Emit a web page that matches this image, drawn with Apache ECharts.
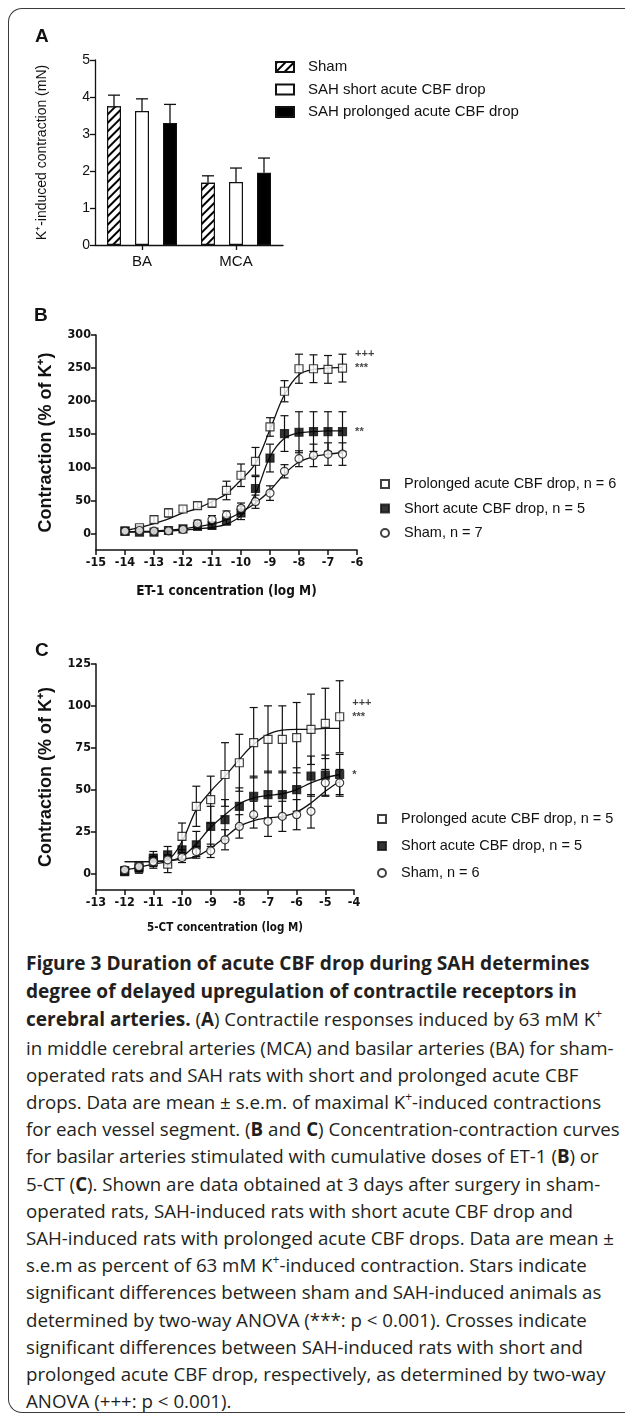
<!DOCTYPE html>
<html><head><meta charset="utf-8">
<script src="https://cdn.jsdelivr.net/npm/echarts@6/dist/echarts.min.js"></script>
<style>
html,body{margin:0;padding:0;background:#fff;width:625px;height:1415px;overflow:hidden;}
#frame{position:absolute;left:8px;top:8px;width:700px;height:1405px;border:1.5px solid #3a3a3a;border-right:none;border-radius:14px 0 0 14px;box-sizing:border-box;}
#chart{position:absolute;left:0;top:0;width:625px;height:945px;}
#caption{position:absolute;left:26px;top:949px;font-family:'Open Sans',sans-serif;font-size:18.7px;line-height:27.2px;color:#231f20;white-space:nowrap;}
#caption .h{font-size:19.1px;font-weight:bold;}
#caption b{font-weight:bold;}
#caption sup{font-size:12px;line-height:0;vertical-align:baseline;position:relative;top:-8px;}
</style></head><body>
<div id="frame"></div>
<div id="chart"></div>
<div id="caption">
<span class="h">Figure 3 Duration of acute CBF drop during SAH determines</span><br>
<span class="h">degree of delayed upregulation of contractile receptors in</span><br>
<span class="h">cerebral arteries.</span> (<b>A</b>) Contractile responses induced by 63 mM K<sup>+</sup><br>
in middle cerebral arteries (MCA) and basilar arteries (BA) for sham-<br>
operated rats and SAH rats with short and prolonged acute CBF<br>
drops. Data are mean ± s.e.m. of maximal K<sup>+</sup>-induced contractions<br>
for each vessel segment. (<b>B</b> and <b>C</b>) Concentration-contraction curves<br>
for basilar arteries stimulated with cumulative doses of ET-1 (<b>B</b>) or<br>
5-CT (<b>C</b>). Shown are data obtained at 3 days after surgery in sham-<br>
operated rats, SAH-induced rats with short acute CBF drop and<br>
SAH-induced rats with prolonged acute CBF drops. Data are mean ±<br>
s.e.m as percent of 63 mM K<sup>+</sup>-induced contraction. Stars indicate<br>
significant differences between sham and SAH-induced animals as<br>
determined by two-way ANOVA (***: p &lt; 0.001). Crosses indicate<br>
significant differences between SAH-induced rats with short and<br>
prolonged acute CBF drop, respectively, as determined by two-way<br>
ANOVA (+++: p &lt; 0.001).
</div>
<script>
// ---------- Panel A data ----------
const aCategories = ['BA', 'MCA'];
const aNames = ['Sham', 'SAH short acute CBF drop', 'SAH prolonged acute CBF drop'];
const aSham = [3.75, 1.68];
const aShamErr = [0.30, 0.19];
const aShort = [3.62, 1.70];
const aShortErr = [0.33, 0.38];
const aProlonged = [3.30, 1.95];
const aProlongedErr = [0.50, 0.40];
const aYTicks = [0, 1, 2, 3, 4, 5];

// ---------- Panel B data (ET-1) ----------
const bX = [-14, -13.5, -13, -12.5, -12, -11.5, -11, -10.5, -10, -9.5, -9, -8.5, -8, -7.5, -7, -6.5];
const bProlonged = [3.5, 8.6, 21, 31, 37, 42, 46, 65, 88, 109, 161, 215, 249, 249, 248, 250];
const bProlongedSem = [3, 3, 5, 6, 5, 5, 6, 14, 17, 21, 14, 16, 22, 21, 21, 21];
const bShort = [3.5, 2, 2, 4.5, 7, 10.7, 12, 19, 31, 68, 114, 151, 153, 154, 154, 154];
const bShortSem = [2, 2, 2, 3, 3, 4, 5, 6, 10, 18, 21, 27, 31, 30, 30, 30];
const bSham = [3.5, 4.5, 3.5, 4, 6, 15, 21, 28, 38, 48, 61, 94, 113, 118, 120, 120];
const bShamSem = [2, 2, 2, 3, 4, 5, 6, 6, 8, 10, 11, 10, 12, 17, 17, 17];
const bProlongedFit = [4.5, 9, 15, 22, 31, 38, 48, 60, 81, 106, 157, 210, 240, 248, 250, 251];
const bShortFit = [2, 2, 2.5, 3.5, 5, 7, 9, 14, 27, 60, 116, 144, 152, 154, 155, 155];
const bShamFit = [2.5, 3, 3.5, 5, 7, 10.5, 14, 21, 32, 46, 65, 90, 108, 116, 120, 122];
const bNames = ['Prolonged acute CBF drop, n = 6', 'Short acute CBF drop, n = 5', 'Sham, n = 7'];
const bSig = ['+++\n***', '**', ''];
const bXTicks = [-15, -14, -13, -12, -11, -10, -9, -8, -7, -6];
const bYTicks = [0, 50, 100, 150, 200, 250, 300];

// ---------- Panel C data (5-CT) ----------
const cX = [-12, -11.5, -11, -10.5, -10, -9.5, -9, -8.5, -8, -7.5, -7, -6.5, -6, -5.5, -5, -4.5];
const cProlonged = [1.4, 4, 7, 5.4, 22, 40, 44, 59, 66, 78, 80, 80, 81, 86, 89.5, 93.5];
const cProlongedSem = [2, 3, 4, 5, 8, 12, 14, 19, 17, 21, 20, 20, 21, 21, 21, 21.5];
const cShort = [1, 3, 9, 11, 14, 17, 28, 32, 40, 46, 47, 47, 50, 58, 58.6, 59];
const cShortSem = [2, 3, 4, 5, 6, 8, 12, 12, 11, 12, 14, 14, 13, 12, 12, 12];
const cSham = [2, 4, 7, 8, 9.4, 13, 13.4, 20, 28, 35, 31, 34, 35, 37, 54, 54];
const cShamSem = [2, 2, 3, 3, 3, 3, 4, 6, 7, 8, 9, 9, 9, 10, 8, 8];
const cProlongedFit = [7, 7, 7, 8, 19, 38, 49, 58, 68, 77, 83, 85.5, 86, 86, 86.5, 86.5];
const cShortFit = [2, 3.5, 5.5, 7, 10, 17.5, 27.5, 35, 41.5, 45, 46.5, 47.5, 50, 54, 57, 59];
const cShamFit = [7, 7, 7, 7.5, 8.5, 10, 15, 21.5, 28, 31.5, 33, 34, 36.5, 42, 49, 55];
const cNames = ['Prolonged acute CBF drop, n = 5', 'Short acute CBF drop, n = 5 ', 'Sham, n = 6'];
const cSig = ['+++\n***', '*', ''];
const cXTicks = [-13, -12, -11, -10, -9, -8, -7, -6, -5, -4];
const cYTicks = [0, 25, 50, 75, 100, 125];

// ---------- build ----------
const narrow = "'Liberation Sans Narrow','Arial Narrow','DejaVu Sans Condensed',sans-serif";
const sans = "'Liberation Sans',Arial,sans-serif";
const ink = '#111';

const chart = echarts.init(document.getElementById('chart'), null, {renderer: 'canvas'});

function barErr(offset) {
  return function (params, api) {
    const cat = api.value(0), v = api.value(1), e = api.value(2);
    const p0 = api.coord([cat, v]);
    const p1 = api.coord([cat, v + e]);
    const x = p0[0] + offset;
    return {type: 'group', children: [
      {type: 'line', shape: {x1: x, y1: p0[1], x2: x, y2: p1[1]}, style: {stroke: ink, lineWidth: 1.3}},
      {type: 'line', shape: {x1: x - 6, y1: p1[1], x2: x + 6, y2: p1[1]}, style: {stroke: ink, lineWidth: 1.3}}
    ]};
  };
}
function symErr(params, api) {
  const x = api.value(0), y = api.value(1), s = api.value(2);
  const hi = api.coord([x, y + s]);
  const lo = api.coord([x, y - s]);
  const st = {stroke: ink, lineWidth: 1.2};
  return {type: 'group', children: [
    {type: 'line', shape: {x1: hi[0], y1: hi[1], x2: lo[0], y2: lo[1]}, style: st},
    {type: 'line', shape: {x1: hi[0] - 4, y1: hi[1], x2: hi[0] + 4, y2: hi[1]}, style: st},
    {type: 'line', shape: {x1: lo[0] - 4, y1: lo[1], x2: lo[0] + 4, y2: lo[1]}, style: st}
  ]};
}

const hatch = {symbol: 'rect', symbolSize: 1, dashArrayX: [1, 0], dashArrayY: [1.3, 3.4], rotation: -Math.PI / 4, color: '#000', backgroundColor: '#fff'};
const aStyles = [
  {color: '#fff', borderColor: ink, borderWidth: 1.2, decal: hatch},
  {color: '#fff', borderColor: ink, borderWidth: 1.2},
  {color: '#000', borderColor: ink, borderWidth: 1.2}
];
const aVals = [aSham, aShort, aProlonged];
const aErrs = [aShamErr, aShortErr, aProlongedErr];
const series = [];
aNames.forEach((n, k) => {
  series.push({type: 'bar', name: n, xAxisIndex: 0, yAxisIndex: 0, barWidth: 14, barGap: '100%',
    itemStyle: aStyles[k], data: aVals[k], z: 2});
  series.push({type: 'custom', xAxisIndex: 0, yAxisIndex: 0, renderItem: barErr((k - 1) * 28), z: 3,
    encode: {x: 0, y: 1}, data: aCategories.map((c, i) => [i, aVals[k][i], aErrs[k][i]])});
});

const symStyles = [
  {symbol: 'rect', itemStyle: {color: '#fff', borderColor: ink, borderWidth: 1.2}},
  {symbol: 'rect', itemStyle: {color: '#000', borderColor: ink, borderWidth: 1.2}},
  {symbol: 'circle', itemStyle: {color: '#fff', borderColor: ink, borderWidth: 1.2}}
];
function addPanel(axisIdx, xs, vals, sems, fits, names, sigs) {
  vals.forEach((arr, k) => {
    series.push({type: 'line', xAxisIndex: axisIdx, yAxisIndex: axisIdx, smooth: 0.35, showSymbol: false, z: 2,
      lineStyle: {color: ink, width: 1.3}, data: xs.map((x, i) => [x, fits[k][i]])});
    series.push({type: 'custom', xAxisIndex: axisIdx, yAxisIndex: axisIdx, renderItem: symErr, z: 3,
      encode: {x: 0, y: 1}, data: xs.map((x, i) => [x, arr[i], sems[k][i]])});
    series.push({type: 'scatter', name: names[k], xAxisIndex: axisIdx, yAxisIndex: axisIdx, z: 4,
      symbol: symStyles[k].symbol, symbolSize: 8, itemStyle: symStyles[k].itemStyle,
      data: xs.map((x, i) => {
        const d = {value: [x, arr[i]]};
        if (i === xs.length - 1 && sigs[k]) {
          d.label = {show: true, position: 'right', distance: 8, formatter: sigs[k], color: ink,
            fontFamily: sans, fontWeight: 'bold', fontSize: 11, lineHeight: 14, align: 'left',
            offset: [0, sigs[k].indexOf('\n') >= 0 ? -7 : 0]};
        }
        return d;
      })});
  });
}
addPanel(1, bX, [bProlonged, bShort, bSham], [bProlongedSem, bShortSem, bShamSem], [bProlongedFit, bShortFit, bShamFit], bNames, bSig);
addPanel(2, cX, [cProlonged, cShort, cSham], [cProlongedSem, cShortSem, cShamSem], [cProlongedFit, cShortFit, cShamFit], cNames, cSig);

const axLine = {show: true, onZero: false, lineStyle: {color: ink, width: 1.5}};
const axTick = {show: true, length: 5, lineStyle: {color: ink, width: 1.5}};
function valX(idx, min, max, ticks, name, gap, nameSize) {
  return {type: 'value', gridIndex: idx, min: min, max: max, interval: 1, splitLine: {show: false},
    axisLine: axLine, axisTick: axTick,
    axisLabel: {color: ink, fontFamily: narrow, fontWeight: 'bold', fontSize: 12.5, margin: 6,
      customValues: ticks, formatter: v => String(v)},
    name: name, nameLocation: 'middle', nameGap: gap,
    nameTextStyle: {color: ink, fontFamily: narrow, fontWeight: 'bold', fontSize: nameSize}};
}
function valY(idx, min, max, ticks, name) {
  return {type: 'value', gridIndex: idx, min: min, max: max, splitLine: {show: false},
    axisLine: axLine, axisTick: Object.assign({}, axTick, {customValues: ticks}),
    axisLabel: {color: ink, fontFamily: narrow, fontWeight: 'bold', fontSize: 12.5, margin: 5, customValues: ticks},
    name: name, nameLocation: 'middle', nameGap: 41, nameRotate: 90,
    nameTextStyle: {color: ink, fontFamily: sans, fontWeight: 'bold', fontSize: 18}};
}
function legendText(pad, size) {
  return {color: ink, fontFamily: sans, fontSize: size, lineHeight: 16,
    rich: {t: {color: ink, fontFamily: sans, fontSize: size, lineHeight: 16, padding: [0, 0, 0, pad]}}};
}

const option = {
  animation: false,
  textStyle: {fontFamily: sans},
  grid: [
    {left: 95, top: 60, width: 188, height: 185},
    {left: 96, top: 335, width: 261, height: 215},
    {left: 96, top: 664, width: 258, height: 226}
  ],
  xAxis: [
    {type: 'category', gridIndex: 0, data: aCategories, axisLine: {show: true, lineStyle: {color: ink, width: 1.3}},
      axisTick: {show: true, alignWithLabel: true, length: 5, lineStyle: {color: ink, width: 1.3}},
      axisLabel: {color: ink, fontFamily: sans, fontSize: 15, margin: 9}},
    valX(1, -15, -6, bXTicks, 'ET-1 concentration (log M)', 34, 13.5),
    valX(2, -13, -4, cXTicks, '5-CT concentration (log M)', 32, 11.5)
  ],
  yAxis: [
    {type: 'value', gridIndex: 0, min: 0, max: 5, interval: 1, splitLine: {show: false},
      axisLine: {show: true, lineStyle: {color: ink, width: 1.3}},
      axisTick: {show: true, length: 5, lineStyle: {color: ink, width: 1.3}},
      axisLabel: {color: ink, fontFamily: sans, fontSize: 14, margin: 5, customValues: aYTicks},
      name: 'K⁺-induced contraction (mN)', nameLocation: 'middle', nameGap: 46, nameRotate: 90,
      nameTextStyle: {color: ink, fontFamily: sans, fontSize: 14}},
    valY(1, -25, 300, bYTicks, 'Contraction (% of K⁺)'),
    valY(2, -10, 125, cYTicks, 'Contraction (% of K⁺)')
  ],
  legend: [
    {data: aNames, left: 270, top: 54, orient: 'vertical', icon: 'rect', itemWidth: 18, itemHeight: 10, itemGap: 6.5,
      selectedMode: false, formatter: '{t|{name}}', textStyle: legendText(9, 15)},
    {data: bNames, left: 375, top: 471, orient: 'vertical', itemWidth: 8, itemHeight: 8, itemGap: 8.5,
      selectedMode: false, formatter: '{t|{name}}', textStyle: legendText(10, 14.5)},
    {data: cNames, left: 372, top: 806, orient: 'vertical', itemWidth: 8, itemHeight: 8, itemGap: 11,
      selectedMode: false, formatter: '{t|{name}}', textStyle: legendText(10, 14.5)}
  ],
  graphic: [
    {type: 'text', left: 35, top: 27, style: {text: 'A', font: 'bold 19px ' + sans, fill: ink}},
    {type: 'text', left: 34, top: 306, style: {text: 'B', font: 'bold 19px ' + sans, fill: ink}},
    {type: 'text', left: 35, top: 641, style: {text: 'C', font: 'bold 19px ' + sans, fill: ink}}
  ],
  series: series
};
chart.setOption(option);
</script>
</body></html>
